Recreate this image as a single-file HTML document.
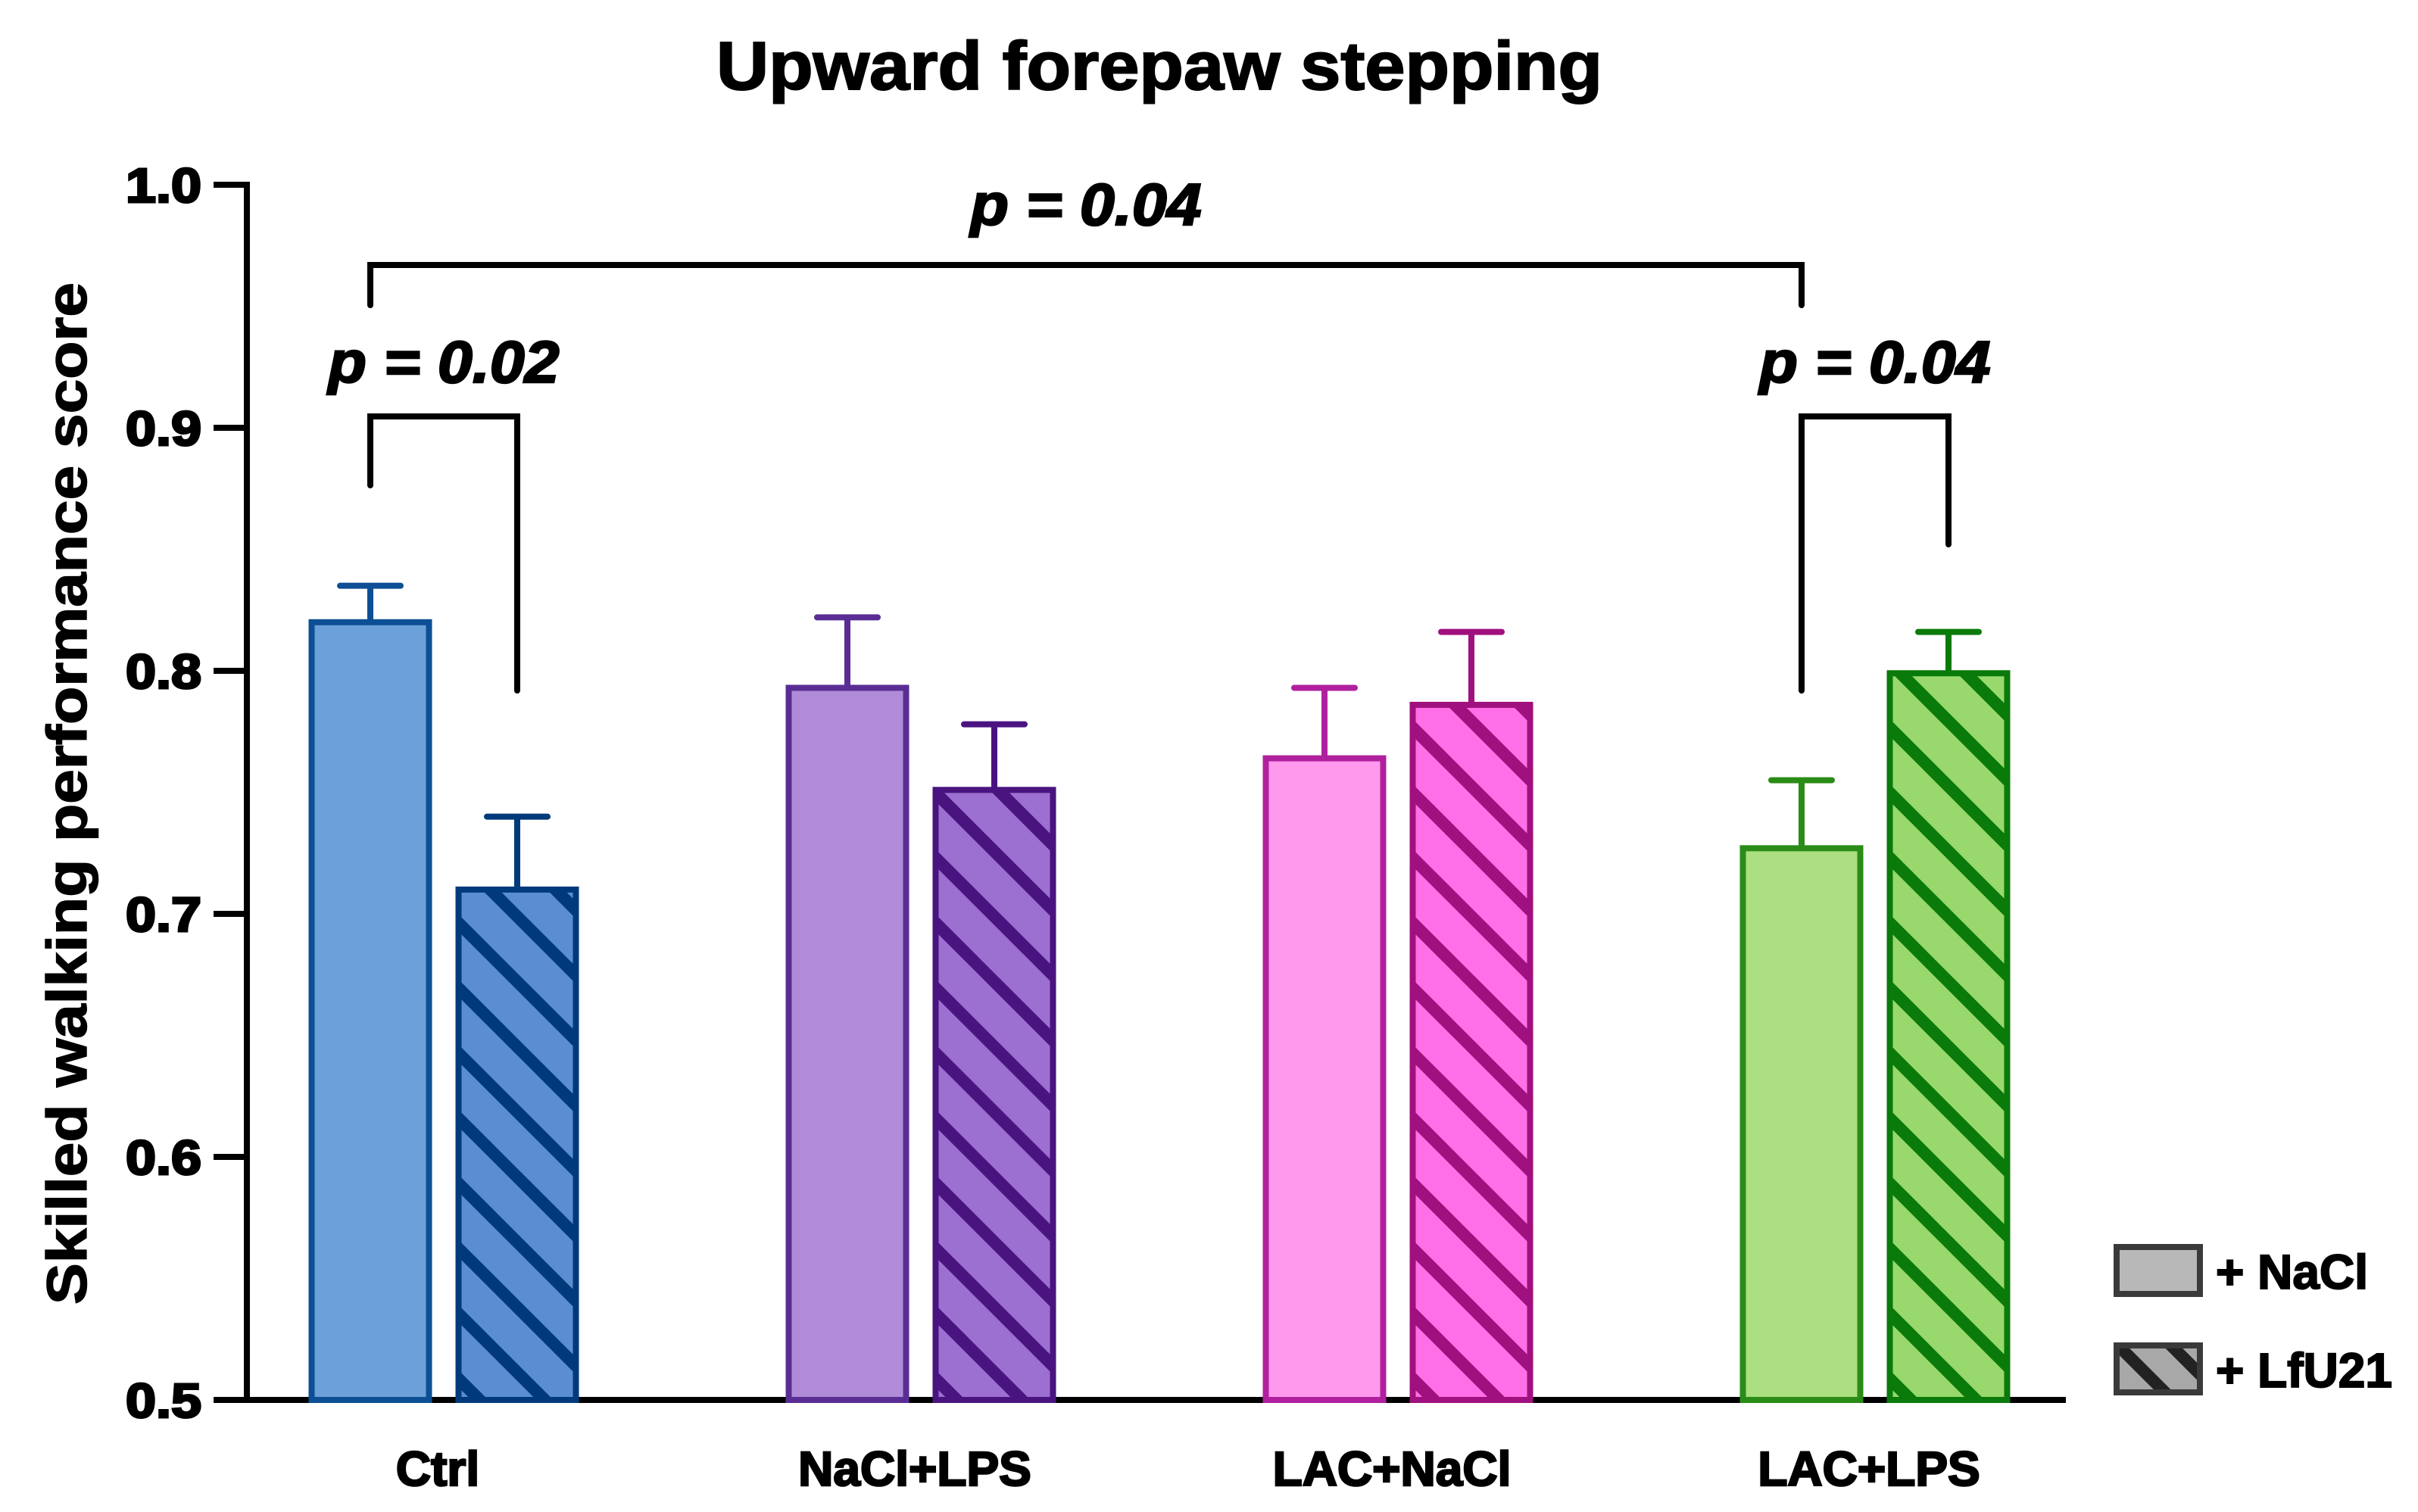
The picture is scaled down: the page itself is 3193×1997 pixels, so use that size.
<!DOCTYPE html>
<html><head><meta charset="utf-8"><style>
html,body{margin:0;padding:0;background:#fff;overflow:hidden;width:3193px;height:1997px;}
svg{display:block;}
text{font-family:"Liberation Sans",sans-serif;font-weight:bold;fill:#000;}
</style></head><body>
<svg id="chart" width="3193" height="1997" viewBox="0 0 3193 1997" xmlns="http://www.w3.org/2000/svg">
<defs id="defs"></defs>
<text x="1531" y="118" font-size="90" text-anchor="middle" textLength="1170" lengthAdjust="spacingAndGlyphs" stroke="#000" stroke-width="2">Upward forepaw stepping</text>
<text transform="translate(114,1048) rotate(-90)" font-size="74" text-anchor="middle" textLength="1350" lengthAdjust="spacingAndGlyphs" stroke="#000" stroke-width="1.5">Skilled walking performance score</text>
<g id="axes"></g>
<g id="bars"></g>
<g id="sig"></g>
<g>
  <g>
    <rect x="2795" y="1647" width="110" height="62" fill="#b8b8b8" stroke="#3a3a3a" stroke-width="8"/>
    <text x="2926" y="1702" font-size="64" stroke="#000" stroke-width="2">+ NaCl</text>
  </g>
  <g>
    <rect x="2795" y="1777" width="110" height="62" fill="#a8a8a8" stroke="#3a3a3a" stroke-width="8"/>
    <clipPath id="lgclip"><rect x="2799" y="1781" width="102" height="54"/></clipPath>
    <g clip-path="url(#lgclip)" stroke="#222" stroke-width="16">
      <line x1="2790" y1="1770" x2="2870" y2="1850"/>
      <line x1="2860" y1="1770" x2="2940" y2="1850"/>
    </g>
    <text x="2926" y="1832" font-size="64" stroke="#000" stroke-width="2">+ LfU21</text>
  </g>
</g>
</svg>
<script>
const categories = ["Ctrl", "NaCl+LPS", "LAC+NaCl", "LAC+LPS"];
const naclValues = [0.820, 0.793, 0.764, 0.727];
const naclErrors = [0.835, 0.822, 0.793, 0.755];
const lfuValues = [0.710, 0.751, 0.786, 0.799];
const lfuErrors = [0.740, 0.778, 0.816, 0.816];
const yTicks = [0.5, 0.6, 0.7, 0.8, 0.9, 1.0];
const yTickLabels = ["0.5", "0.6", "0.7", "0.8", "0.9", "1.0"];
const pLabels = ["p = 0.04", "p = 0.02", "p = 0.04"];

const fills = [["#6ca0d8","#5b8ed0"],["#b08cd8","#9c70d0"],["#ff99ee","#ff70e8"],["#abdf82","#98d86c"]];
const strokes = [["#0d4f94","#003a7a"],["#5a2d94","#4a1480"],["#b0209e","#a0107e"],["#2a8c16","#0a7a0a"]];

const NS = "http://www.w3.org/2000/svg";
const X0 = 326, XEND = 2728, Y0 = 1849, PXU = 3210;
function y(v){ return Y0 - (v - 0.5) * PXU; }
function gx(i){ return 586 + i * 630; }
function bx(i, s){ return gx(i) + (s === 0 ? -97 : 97); }
const BW = 155;
function mk(tag, attrs, parent){ const e = document.createElementNS(NS, tag); for (const k in attrs) e.setAttribute(k, attrs[k]); parent.appendChild(e); return e; }

const defs = document.getElementById('defs');
const axes = document.getElementById('axes');
const bars = document.getElementById('bars');
const sig = document.getElementById('sig');

const yl = mk('line', {x1:X0, y1:y(1.0)-4, x2:X0, y2:Y0+4, stroke:'#000', 'stroke-width':8}, axes);


const xl = mk('line', {x1:X0-4, y1:Y0, x2:XEND, y2:Y0, stroke:'#000', 'stroke-width':8}, axes);


yTicks.forEach((t, i) => {
  const tk = mk('line', {x1:X0-44, y1:y(t), x2:X0, y2:y(t), stroke:'#000', 'stroke-width':8}, axes);
  
  
  const lb = mk('text', {x:266, y:y(t)+23, 'font-size':64, 'text-anchor':'end', stroke:'#000', 'stroke-width':3, textLength:100, lengthAdjust:'spacingAndGlyphs'}, axes);
  lb.textContent = yTickLabels[i];
  
  
});
categories.forEach((c, i) => {
  const lb = mk('text', {x:gx(i)-8, y:1962, 'font-size':64, 'text-anchor':'middle', stroke:'#000', 'stroke-width':2.5}, axes);
  lb.textContent = c;
  
  
});

categories.forEach((c, i) => {
  [naclValues, lfuValues].forEach((vals, s) => {
    const errs = s === 0 ? naclErrors : lfuErrors;
    const cx = bx(i, s), top = y(vals[i]);
    const g = mk('g', {}, bars);
    
    
    mk('line', {x1:cx, y1:top, x2:cx, y2:y(errs[i]), stroke:strokes[i][s], 'stroke-width':8}, g);
    mk('line', {x1:cx-40, y1:y(errs[i]), x2:cx+40, y2:y(errs[i]), stroke:strokes[i][s], 'stroke-width':8, 'stroke-linecap':'round'}, g);
    mk('rect', {x:cx-BW/2, y:top, width:BW, height:Y0-top, fill:fills[i][s]}, g);
    if (s === 1) {
      const id = 'clip' + i;
      const cp = mk('clipPath', {id:id}, defs);
      mk('rect', {x:cx-BW/2, y:top, width:BW, height:Y0-top}, cp);
      const sg = mk('g', {'clip-path':'url(#' + id + ')', stroke:strokes[i][s], 'stroke-width':16}, g);
      for (let k = -4; k < 30; k++) {
        const yy = Y0 - k * 86;
        mk('line', {x1:cx-BW/2-20, y1:yy-200-20, x2:cx+BW/2+20, y2:yy-200+BW+20}, sg);
      }
    }
    mk('rect', {x:cx-BW/2, y:top, width:BW, height:Y0-top, fill:'none', stroke:strokes[i][s], 'stroke-width':8}, g);
  });
});

function bracket(x1, l1, x2, l2, by, label, ty, name){
  const g = mk('g', {}, sig);
  
  
  mk('path', {d:`M${x1},${l1} L${x1},${by} L${x2},${by} L${x2},${l2}`, fill:'none', stroke:'#000', 'stroke-width':8, 'stroke-linecap':'round'}, g);
  const t = mk('text', {x:(x1+x2)/2, y:ty, 'font-size':78, 'font-style':'italic', 'text-anchor':'middle', stroke:'#000', 'stroke-width':2.5, textLength:305, lengthAdjust:'spacingAndGlyphs'}, g);
  t.textContent = label;
}
bracket(bx(0,0), 403, bx(3,0), 403, 350, pLabels[0], 297, 'bracket-ctrl-vs-lac-lps');
bracket(bx(0,0), 641, bx(0,1), 912, 550, pLabels[1], 505, 'bracket-ctrl');
bracket(bx(3,0), 912, bx(3,1), 719, 550, pLabels[2], 505, 'bracket-lac-lps');
</script>
</body></html>
